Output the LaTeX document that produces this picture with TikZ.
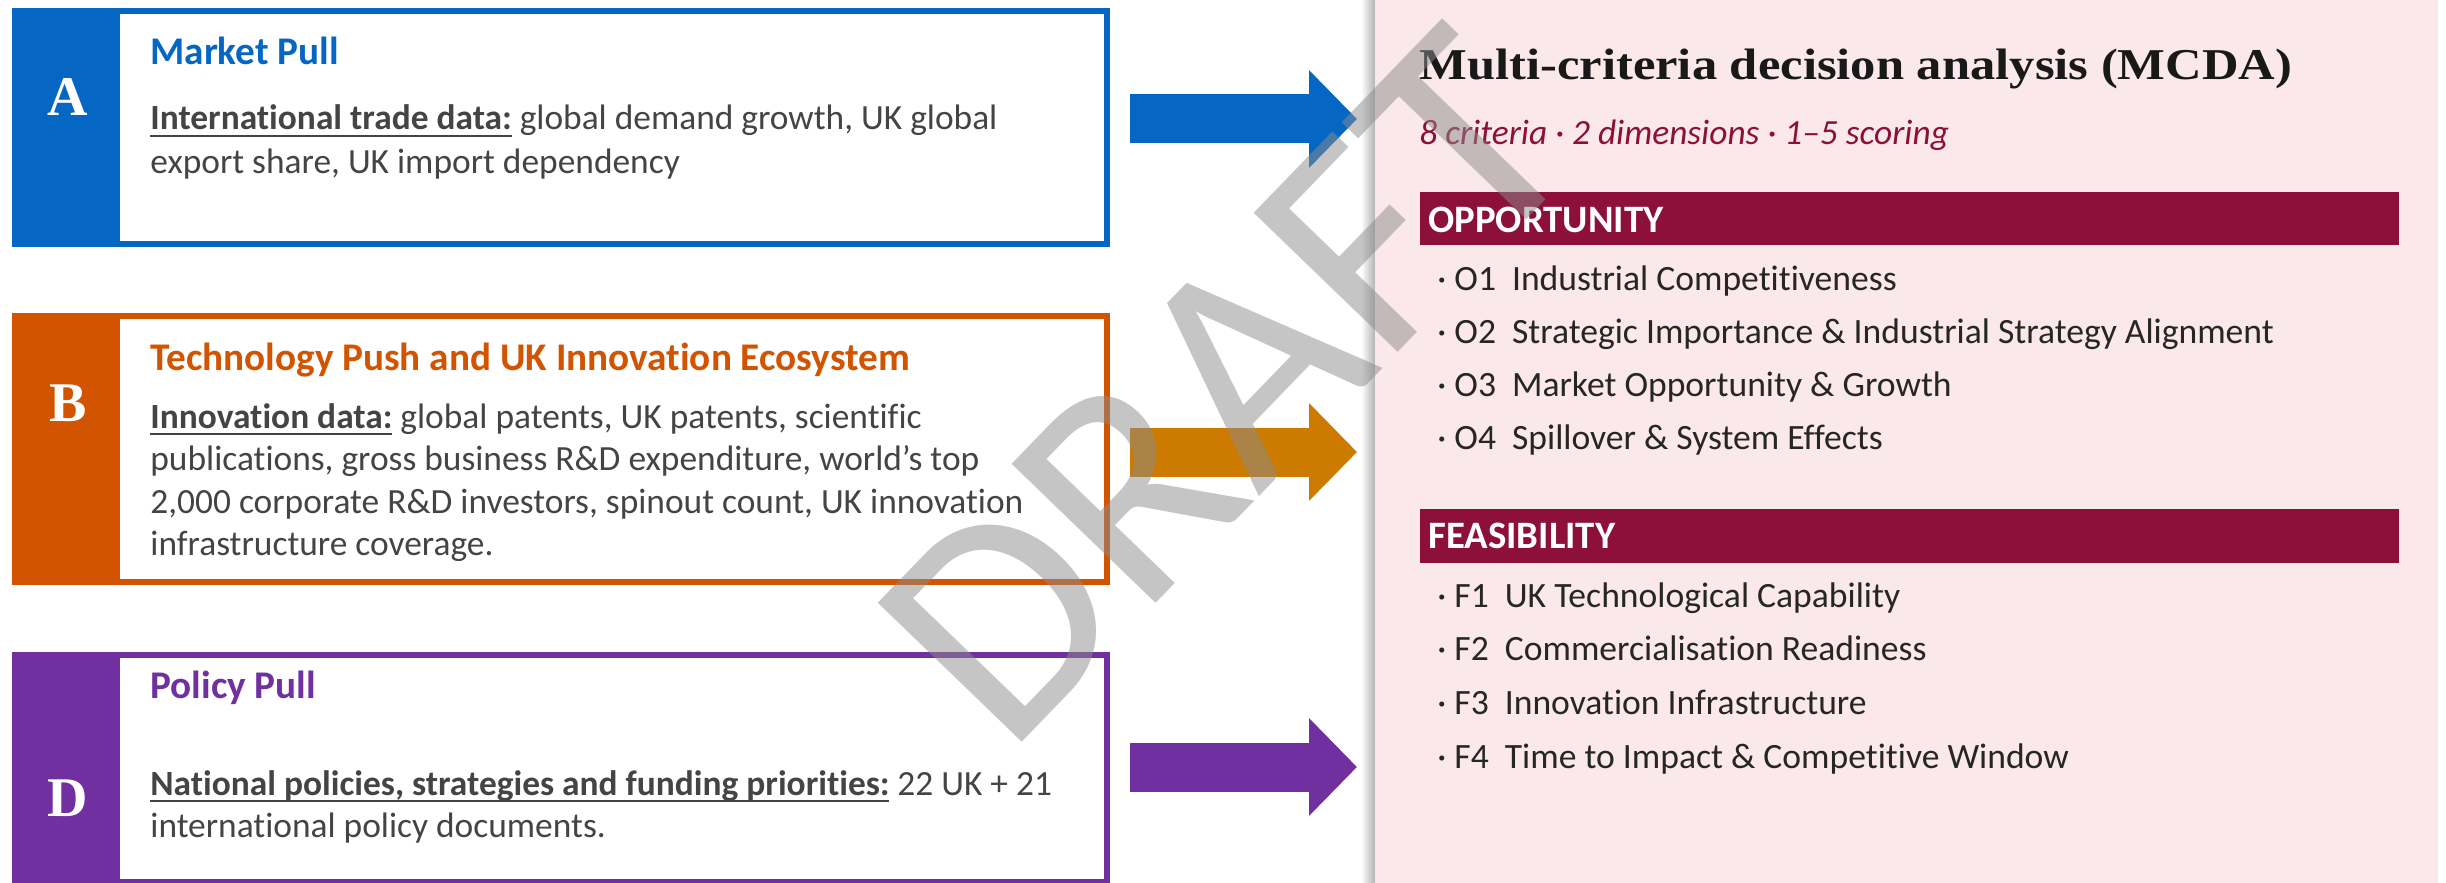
\documentclass[tikz,border=0pt]{standalone}
\usepackage{fontspec}
\usepackage{graphicx}
\setmainfont{Carlito}[Ligatures=NoCommon]
\newfontfamily\headserif{Liberation Serif}
\usetikzlibrary{arrows.meta}

% bold, underlined lead-in of a data description
\newsavebox\leadbox
\newcommand\leadin[1]{\sbox\leadbox{\textbf{#1}}\rlap{\rule[-3.6pt]{\wd\leadbox}{1.2pt}}\usebox\leadbox}

\definecolor{mpblue}{RGB}{6,102,196}
\definecolor{tporange}{RGB}{211,84,0}
\definecolor{arrorange}{RGB}{204,122,0}
\definecolor{pppurple}{RGB}{112,48,160}
\definecolor{wine}{RGB}{140,16,58}
\definecolor{panelpink}{RGB}{251,232,234}
\definecolor{bodygray}{RGB}{68,68,68}
\definecolor{itemink}{RGB}{38,38,38}

\tikzset{
  srcbox/.style={draw=#1, line width=3pt, fill=white, anchor=north west,
    inner sep=0pt, outer sep=0pt, minimum width=546pt},
  letter/.style={text=white, inner sep=0pt,
    font=\headserif\bfseries\fontsize{28}{28}\selectfont},
  boxtitle/.style={anchor=base west, inner sep=0pt, text=#1,
    font=\bfseries\fontsize{19.6}{19.6}\selectfont},
  bodyline/.style={anchor=base west, inner sep=0pt, text=bodygray,
    font=\fontsize{17.7}{21.5}\selectfont},
  flow/.style={draw=#1, line width=24.5pt,
    -{Triangle[length=24pt,width=47.5pt]}, shorten <=11.5pt, shorten >=9pt},
  bar/.style={fill=wine, anchor=north west, inner sep=0pt, outer sep=0pt,
    minimum width=489.5pt},
  bartext/.style={anchor=base west, inner sep=0pt, text=white,
    font=\bfseries\fontsize{19.4}{19.4}\selectfont},
  item/.style={anchor=base west, inner sep=0pt, text=itemink,
    font=\fontsize{17.8}{21.5}\selectfont},
}

\begin{document}
\begin{tikzpicture}[x=0.5pt,y=-0.5pt]
  \useasboundingbox (0,0) rectangle (2446,883);
  \fill[white] (0,0) rectangle (2446,883);

  % MCDA panel with a soft edge on its left
  \shade[left color=white, right color=black!30] (1361,0) rectangle (1375,883);
  \node[fill=panelpink, anchor=north west, inner sep=0pt, outer sep=0pt,
        minimum width=531.5pt, minimum height=441.5pt] (panel) at (1375,0) {};

  % Source boxes
  \node[srcbox=mpblue, minimum height=116.5pt] (boxA) at (15,11) {};
  \node[srcbox=tporange, minimum height=133pt] (boxB) at (15,316) {};
  \node[srcbox=pppurple, minimum height=113.5pt] (boxD) at (15,655) {};

  \fill[mpblue] ([shift={(-1.5pt,1.5pt)}]boxA.north west) rectangle ([shift={(52.5pt,-1.5pt)}]boxA.south west);
  \fill[tporange] ([shift={(-1.5pt,1.5pt)}]boxB.north west) rectangle ([shift={(52.5pt,-1.5pt)}]boxB.south west);
  \fill[pppurple] ([shift={(-1.5pt,1.5pt)}]boxD.north west) rectangle ([shift={(52.5pt,-1.5pt)}]boxD.south west);

  \node[letter] (letA) at (68,97) {A};
  \node[letter] (letB) at (68,403) {B};
  \node[letter] (letD) at (68,798) {D};

  % Box A
  \node[boxtitle=mpblue] (titA) at (150,65) {Market Pull};
  \node[bodyline] (a1) at (150,130) {\leadin{International trade data:} global demand growth, UK global};
  \node[bodyline] (a2) at (150,173) {export share, UK import dependency};

  % Box B
  \node[boxtitle=tporange] (titB) at (150,370) {Technology Push and UK Innovation Ecosystem};
  \node[bodyline] (b1) at (150,428) {\leadin{Innovation data:} global patents, UK patents, scientific};
  \node[bodyline] (b2) at (150,470) {publications, gross business R\&D expenditure, world’s top};
  \node[bodyline] (b3) at (150,513) {2,000 corporate R\&D investors, spinout count, UK innovation};
  \node[bodyline] (b4) at (150,555) {infrastructure coverage.};

  % Box D
  \node[boxtitle=pppurple] (titD) at (150,698) {Policy Pull};
  \node[bodyline] (d1) at (150,795) {\leadin{National policies, strategies and funding priorities:} 22 UK + 21};
  \node[bodyline] (d2) at (150,837) {international policy documents.};

  % Flow arrows into the panel
  \coordinate (yA) at (0,119);
  \coordinate (yB) at (0,452);
  \coordinate (yD) at (0,767);
  \draw[flow=mpblue] (boxA.east |- yA) -- (panel.west |- yA);
  \draw[flow=arrorange] (boxB.east |- yB) -- (panel.west |- yB);
  \draw[flow=pppurple] (boxD.east |- yD) -- (panel.west |- yD);

  % Panel content
  \node[anchor=base west, inner sep=0pt, text=black!90,
        font=\headserif\bfseries\fontsize{22}{22}\selectfont] (mcda) at (1419,80)
        {\scalebox{1.15}[1]{Multi-criteria decision analysis (MCDA)}};
  \node[anchor=base west, inner sep=0pt, text=wine,
        font=\itshape\fontsize{17.7}{17.7}\selectfont] (sub) at (1419,145)
        {8 criteria · 2 dimensions · 1–5 scoring};

  \node[bar, minimum height=26.5pt] (opp) at (1420,192) {};
  \node[bartext] (oppT) at (1428,232) {OPPORTUNITY};
  \node[item] (o1) at (1437,290) {· O1\hspace{0.45em}Industrial Competitiveness};
  \node[item] (o2) at (1437,343) {· O2\hspace{0.45em}Strategic Importance \& Industrial Strategy Alignment};
  \node[item] (o3) at (1437,396) {· O3\hspace{0.45em}Market Opportunity \& Growth};
  \node[item] (o4) at (1437,449) {· O4\hspace{0.45em}Spillover \& System Effects};

  \node[bar, minimum height=27pt] (fea) at (1420,509) {};
  \node[bartext] (feaT) at (1428,548) {FEASIBILITY};
  \node[item] (f1) at (1437,607) {· F1\hspace{0.45em}UK Technological Capability};
  \node[item] (f2) at (1437,660) {· F2\hspace{0.45em}Commercialisation Readiness};
  \node[item] (f3) at (1437,714) {· F3\hspace{0.45em}Innovation Infrastructure};
  \node[item] (f4) at (1437,768) {· F4\hspace{0.45em}Time to Impact \& Competitive Window};

  % Watermark
  \node[rotate=46, inner sep=0pt, text=black!45, opacity=0.5,
        font=\fontsize{156}{156}\selectfont] (wm) at (1226,387) {DRAFT};
\end{tikzpicture}
\end{document}
